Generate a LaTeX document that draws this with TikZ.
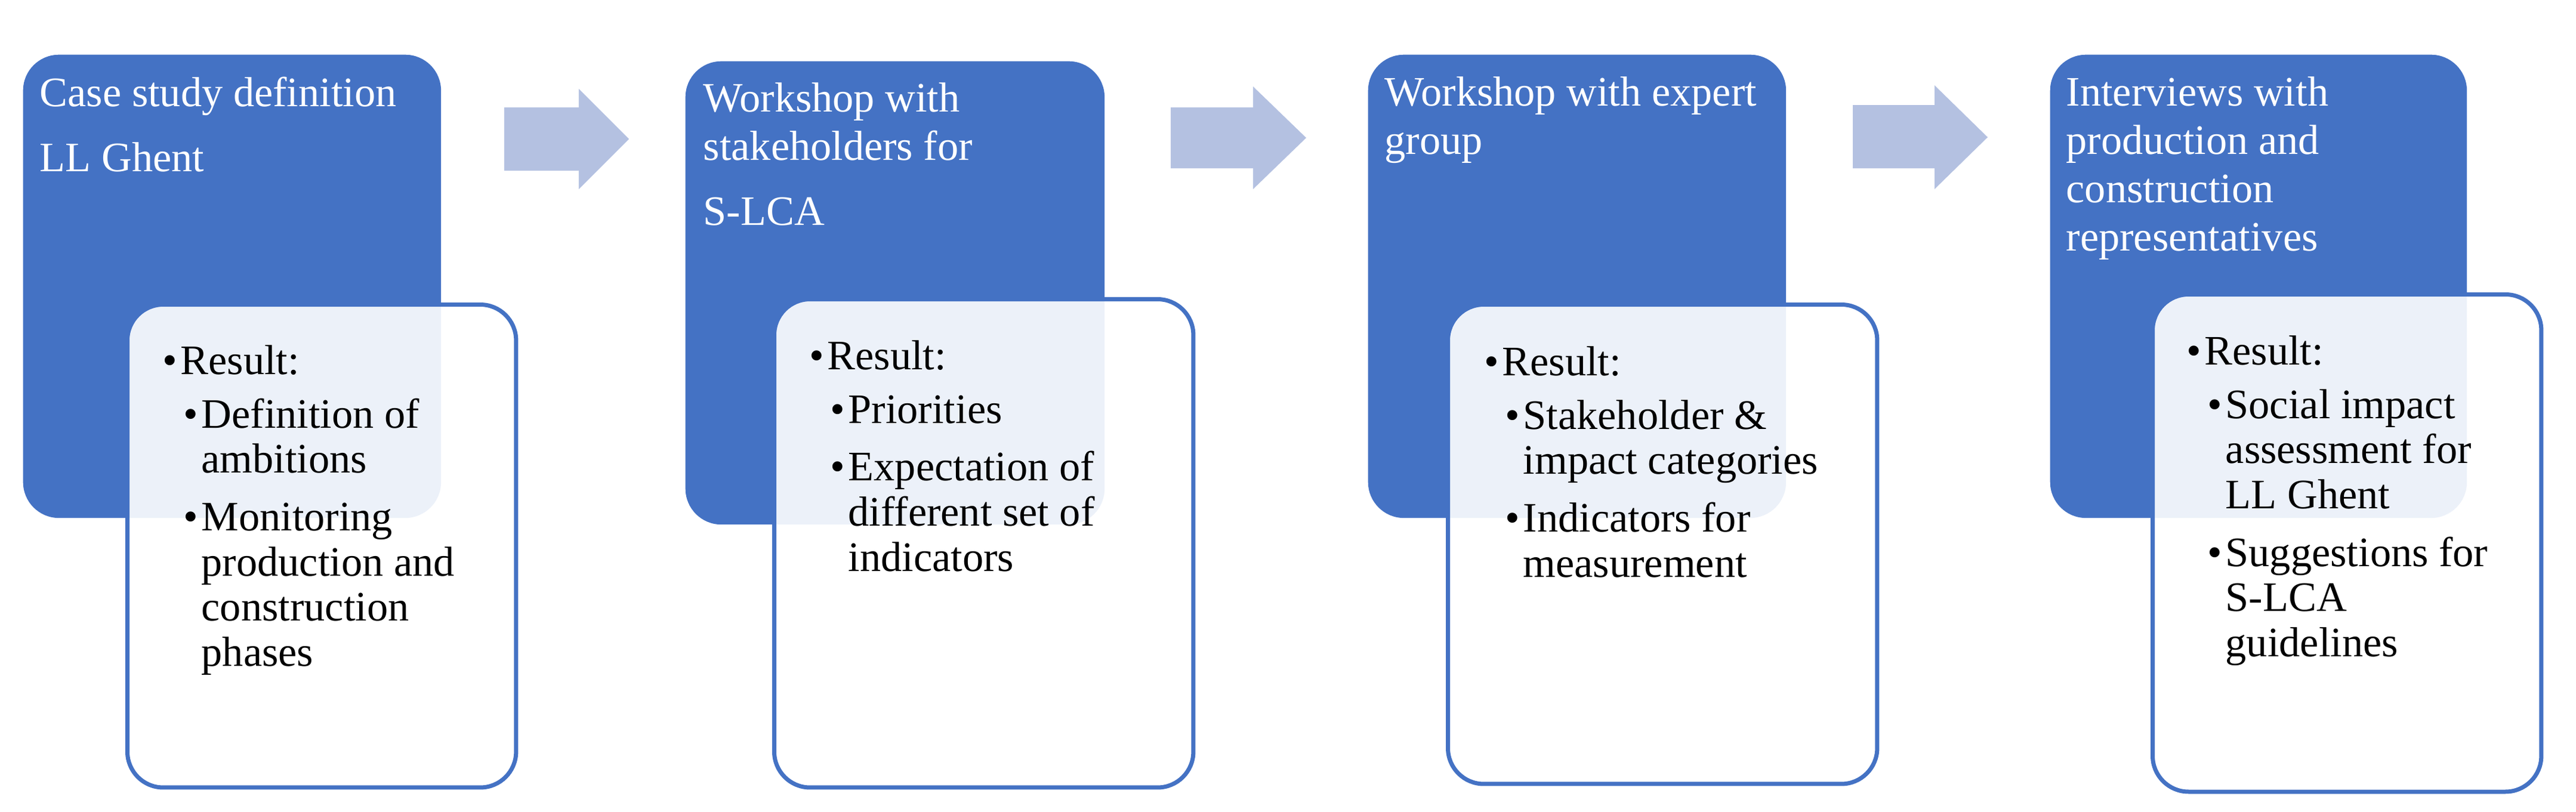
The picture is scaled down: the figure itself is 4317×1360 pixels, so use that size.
\documentclass[tikz,border=0pt]{standalone}
\usepackage{fontspec}
\setmainfont{Liberation Serif}
\definecolor{mblue}{HTML}{4472C4}
\definecolor{marrow}{HTML}{B4C1E1}
\newcommand{\mybl}[1]{\makebox[0.3cm][l]{•}#1}
\newcommand{\mysb}[1]{\hspace*{0.35cm}\makebox[0.3cm][l]{•}#1}
\newcommand{\mysi}{\hspace*{0.65cm}}
\tikzset{
  bluebox/.style={fill=mblue, rounded corners=0.6cm, inner sep=0, anchor=north west},
  whitebox/.style={draw=mblue, line width=0.07cm, fill=white, fill opacity=0.9, rounded corners=0.6cm, inner sep=0, anchor=north west},
  ttl/.style={text=white, anchor=north west, inner sep=0, align=left, font=\fontsize{20}{23}\selectfont},
  res/.style={text=black, anchor=north west, inner sep=0, align=left, font=\fontsize{20}{21.5}\selectfont},
  flow/.style={fill=marrow}
}
\begin{document}
\begin{tikzpicture}[x=0.01cm,y=-0.01cm]
\useasboundingbox (0,0) rectangle (4317,1360);
% blue boxes
\node[bluebox, minimum width=7.00cm, minimum height=7.76cm] (b1) at (38,91) {};
\node[bluebox, minimum width=7.02cm, minimum height=7.76cm] (b2) at (1148,102) {};
\node[bluebox, minimum width=7.00cm, minimum height=7.76cm] (b3) at (2292,91) {};
\node[bluebox, minimum width=6.98cm, minimum height=7.76cm] (b4) at (3435,91) {};
% titles
\node[ttl] (t1) at (66,128) {Case study definition\\[8pt]LL Ghent};
\node[ttl] (t2) at (1178,138) {Workshop with\\stakeholders for\\[8pt]S-LCA};
\node[ttl] (t3) at (2320,128) {Workshop with expert\\group};
\node[ttl] (t4) at (3462,128) {Interviews with\\production and\\construction\\representatives};
% white boxes
\node[whitebox, minimum width=6.51cm, minimum height=8.09cm] (w1) at (210,507) {};
\node[whitebox, minimum width=7.02cm, minimum height=8.18cm] (w2) at (1294,498) {};
\node[whitebox, minimum width=7.19cm, minimum height=8.03cm] (w3) at (2423,507) {};
\node[whitebox, minimum width=6.51cm, minimum height=8.33cm] (w4) at (3604,490) {};
% results
\node[res] (r1) at (272,578) {\mybl{Result:}\\[4pt]\mysb{Definition of}\\\mysi ambitions\\[6pt]\mysb{Monitoring}\\\mysi production and\\\mysi construction\\\mysi phases};
\node[res] (r2) at (1356,570) {\mybl{Result:}\\[4pt]\mysb{Priorities}\\[6pt]\mysb{Expectation of}\\\mysi different set of\\\mysi indicators};
\node[res] (r3) at (2487,580) {\mybl{Result:}\\[4pt]\mysb{Stakeholder \&}\\\mysi impact categories\\[6pt]\mysb{Indicators for}\\\mysi measurement};
\node[res] (r4) at (3664,562) {\mybl{Result:}\\[4pt]\mysb{Social impact}\\\mysi assessment for\\\mysi LL Ghent\\[6pt]\mysb{Suggestions for}\\\mysi S-LCA\\\mysi guidelines};
% arrows
\path[flow] (845,180) -- (970,180) -- (970,149) -- (1054,233) -- (970,317) -- (970,286) -- (845,286) -- cycle;
\path[flow] (1962,180) -- (2100,180) -- (2100,145) -- (2189,231) -- (2100,317) -- (2100,282) -- (1962,282) -- cycle;
\path[flow] (3105,176) -- (3242,176) -- (3242,143) -- (3331,230) -- (3242,317) -- (3242,282) -- (3105,282) -- cycle;
\end{tikzpicture}
\end{document}
